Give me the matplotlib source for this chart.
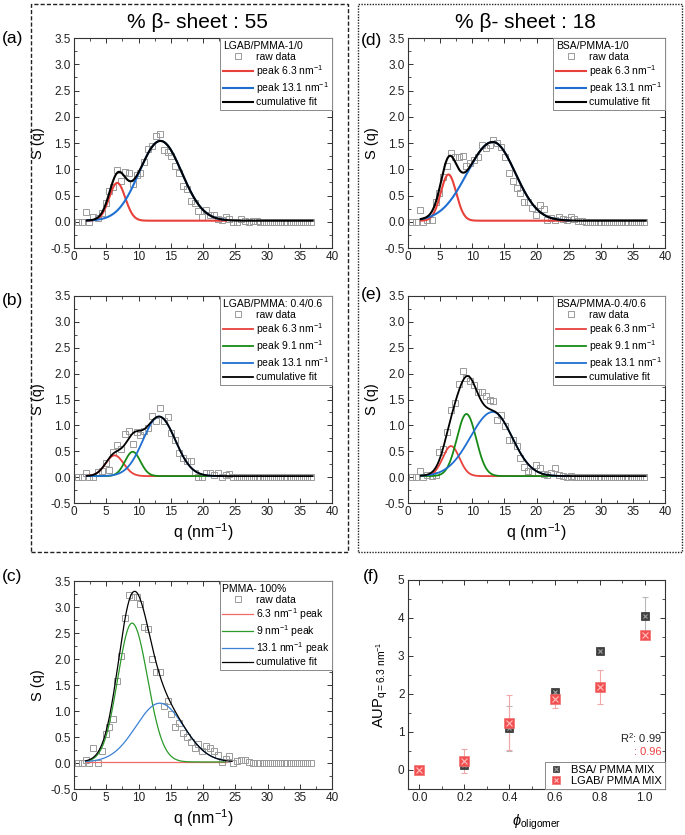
import numpy as np
import matplotlib
matplotlib.use("Agg")
import matplotlib.pyplot as plt
from matplotlib.patches import Rectangle
from matplotlib.ticker import MultipleLocator
from matplotlib.legend_handler import HandlerTuple

plt.rcParams['font.family'] = ['Liberation Sans', 'DejaVu Sans']
plt.rcParams['mathtext.fontset'] = 'custom'
plt.rcParams['mathtext.rm'] = 'Liberation Sans'
plt.rcParams['mathtext.it'] = 'Liberation Sans:italic'
plt.rcParams['mathtext.bf'] = 'Liberation Sans:bold'
plt.rcParams['axes.unicode_minus'] = False

# ---------------- data ----------------
Q = [0.6, 1.2, 1.8, 2.4, 3.0, 3.7, 4.3, 4.9, 5.5, 6.1, 6.7, 7.3, 7.9, 8.5, 9.1, 9.7,
     10.3, 10.9, 11.5, 12.1, 12.7, 13.3, 13.9, 14.5, 15.1, 15.7, 16.3, 16.9, 17.5, 18.1,
     18.7, 19.3, 19.9, 20.5, 21.1, 21.7, 22.3, 22.9, 23.5, 24.1, 24.7, 25.3, 25.9, 26.5,
     27.1, 27.7, 28.3, 28.9, 29.5, 30.1, 30.7, 31.3, 31.9, 32.5, 33.1, 33.7, 34.3, 34.9,
     35.5, 36.1, 36.7]

S_a = [0.0, 0.0, 0.19, 0.0, 0.09, 0.08, 0.16, 0.35, 0.58, 0.67, 0.98, 0.78, 0.94, 0.93, 0.72, 0.90,
       0.93, 1.14, 1.39, 1.45, 1.63, 1.67, 1.36, 1.33, 1.25, 1.07, 0.92, 0.69, 0.63, 0.40,
       0.35, 0.21, 0.10, 0.22, 0.13, 0.13, 0.06, 0.03, 0.10, 0.06, 0.0, 0.0, 0.05, 0.02,
       0.0, 0.01, 0.01, 0.0, 0.0, 0.0, 0.0, 0.0, 0.0, 0.0, 0.0, 0.0, 0.0, 0.0,
       0.0, 0.0, 0.0]
S_b = [0.0, 0.0, 0.08, 0.0, 0.0, 0.10, 0.12, 0.28, 0.13, 0.49, 0.63, 0.54, 0.83, 0.90, 0.64, 0.88,
       0.82, 0.90, 0.94, 1.19, 1.08, 1.33, 1.08, 1.16, 0.85, 0.72, 0.47, 0.37, 0.31, 0.31,
       0.08, 0.0, 0.0, 0.08, 0.08, 0.05, 0.08, 0.0, 0.05, 0.06, 0.0, 0.0, 0.01, 0.0,
       0.0, 0.0, 0.0, 0.0, 0.0, 0.0, 0.0, 0.0, 0.0, 0.0, 0.0, 0.0, 0.0, 0.0,
       0.0, 0.0, 0.0]
S_c = [0.0, 0.0, 0.06, 0.0, 0.28, 0.0, 0.23, 0.55, 0.70, 0.85, 1.57, 2.06, 2.79, 3.23, 3.19, 3.20,
       3.06, 2.62, 2.58, 2.00, 1.75, 1.75, 1.09, 1.20, 0.95, 0.69, 0.77, 0.58, 0.50, 0.40,
       0.28, 0.36, 0.23, 0.33, 0.28, 0.23, 0.15, 0.02, 0.08, 0.13, 0.0, 0.04, 0.06, 0.05,
       0.02, 0.0, 0.0, 0.0, 0.0, 0.0, 0.0, 0.0, 0.0, 0.0, 0.0, 0.0, 0.0, 0.0,
       0.0, 0.0, 0.0]
S_d = [0.0, 0.0, 0.22, 0.0, 0.03, 0.03, 0.38, 0.54, 0.85, 1.07, 1.31, 1.24, 1.24, 1.25, 1.06, 1.11,
       1.18, 1.23, 1.47, 1.41, 1.47, 1.55, 1.50, 1.42, 1.24, 0.93, 0.77, 0.65, 0.54, 0.38,
       0.38, 0.26, 0.13, 0.32, 0.24, 0.04, 0.08, 0.04, 0.09, 0.06, 0.03, 0.09, 0.05, 0.02,
       0.01, 0.0, 0.0, 0.0, 0.0, 0.0, 0.0, 0.0, 0.0, 0.0, 0.0, 0.0, 0.0, 0.0,
       0.0, 0.0, 0.0]
S_e = [0.0, 0.0, 0.12, 0.0, 0.05, 0.03, 0.05, 0.49, 0.55, 0.87, 1.30, 1.43, 1.80, 2.06, 1.91, 1.85,
       1.78, 1.64, 1.64, 1.56, 1.49, 1.48, 1.10, 1.20, 0.98, 0.72, 0.72, 0.60, 0.37, 0.20,
       0.12, 0.10, 0.23, 0.18, 0.06, 0.05, 0.08, 0.17, 0.05, 0.03, 0.01, 0.02, 0.0, 0.0,
       0.0, 0.0, 0.0, 0.0, 0.0, 0.0, 0.0, 0.0, 0.0, 0.0, 0.0, 0.0, 0.0, 0.0,
       0.0, 0.0, 0.0]

# fitted peaks: (centre, height, sigma_left, sigma_right)
BASE = 0.02
PEAKS_a = [(6.7, 0.72, 1.25, 1.25), (13.4, 1.52, 3.3, 3.3)]
PEAKS_b = [(6.3, 0.40, 1.4, 1.4), (9.1, 0.47, 1.2, 1.2), (13.2, 1.15, 2.5, 2.5)]
PEAKS_c = [(6.3, 0.0, 1.2, 1.2), (9.0, 2.67, 2.2, 2.4), (13.3, 1.13, 3.7, 3.7)]
PEAKS_d = [(6.3, 0.88, 1.2, 1.2), (13.2, 1.50, 4.0, 3.5)]
PEAKS_e = [(6.7, 0.58, 1.3, 1.3), (9.1, 1.20, 1.5, 1.5), (13.2, 1.24, 3.5, 3.0)]

PHI = [0.0, 0.2, 0.4, 0.6, 0.8, 1.0]
AUP_BSA = [0.0, 0.12, 1.10, 2.05, 3.13, 4.04]
ERR_BSA = [0.0, 0.05, 0.59, 0.05, 0.05, 0.50]
AUP_LGAB = [0.0, 0.24, 1.25, 1.87, 2.19, 3.54]
ERR_LGAB = [0.0, 0.32, 0.73, 0.23, 0.44, 0.08]

RED = '#e8403a'
GREEN = '#168a16'
BLUE = '#1f6fd2'
GRAYSQ = '#9a9a9a'

W, H = 685, 835
fig = plt.figure(figsize=(W / 100, H / 100), dpi=100)


def box(l, t, r, b):
    return [l / W, 1 - b / H, (r - l) / W, (b - t) / H]


def peak(q, c, h, sl, sr):
    s = np.where(q < c, sl, sr)
    return h * np.exp(-(q - c) ** 2 / (2 * s ** 2))


def style_axes(ax):
    for sp in ax.spines.values():
        sp.set_color('#333333')
        sp.set_linewidth(0.8)
    ax.tick_params(which='both', direction='in', top=True, right=True,
                   labelsize=8.5, colors='#333333', labelcolor='#222222')
    ax.tick_params(which='major', length=3.5, width=0.7, pad=2.5)
    ax.tick_params(which='minor', length=2, width=0.6)


def spectrum(ax, S, peaks, cols, labels, title, start, comp_end, cum_end, lw, xlabel):
    ax.plot(Q, S, 's', ms=4.2, mfc='none', mec=GRAYSQ, mew=0.7, label='raw data', zorder=2)
    qc = np.linspace(start, comp_end, 500)
    for (c, h, sl, sr), col, lab in zip(peaks, cols, labels):
        ax.plot(qc, BASE + peak(qc, c, h, sl, sr), color=col, lw=lw, label=lab, zorder=3)
    qq = np.linspace(start, cum_end, 800)
    tot = BASE + sum(peak(qq, *p) for p in peaks)
    ax.plot(qq, tot, color='black', lw=lw, label='cumulative fit', zorder=4)
    ax.set_xlim(0, 40)
    ax.set_ylim(-0.5, 3.5)
    ax.xaxis.set_major_locator(MultipleLocator(5))
    ax.xaxis.set_minor_locator(MultipleLocator(2.5))
    ax.yaxis.set_major_locator(MultipleLocator(0.5))
    ax.yaxis.set_minor_locator(MultipleLocator(0.25))
    style_axes(ax)
    ax.set_ylabel('S (q)', fontsize=10.5, labelpad=4)
    if xlabel:
        ax.set_xlabel('q (nm$^{-1}$)', fontsize=11.5, labelpad=2)
    leg = ax.legend(loc='upper right', borderaxespad=0, title=title, alignment='left',
                    fontsize=7.5, title_fontsize=7.5, handlelength=2.9, handletextpad=0.3,
                    borderpad=0.25, labelspacing=0.12, fancybox=False, framealpha=1,
                    edgecolor='#8a8a8a', markerscale=1.0, numpoints=1)
    leg.get_frame().set_linewidth(0.7)


pk2 = ['peak 6.3 nm$^{-1}$', 'peak 13.1 nm$^{-1}$']
pk3 = ['peak 6.3 nm$^{-1}$', 'peak 9.1 nm$^{-1}$', 'peak 13.1 nm$^{-1}$']

ax_a = fig.add_axes(box(74, 38, 332, 248))
spectrum(ax_a, S_a, PEAKS_a, [RED, BLUE], pk2, 'LGAB/PMMA-1/0', 2.0, 23.5, 37, 1.5, False)
ax_d = fig.add_axes(box(408, 38, 665, 248))
spectrum(ax_d, S_d, PEAKS_d, [RED, BLUE], pk2, 'BSA/PMMA-1/0', 2.0, 25, 37, 1.5, False)
ax_b = fig.add_axes(box(74, 296, 332, 503))
spectrum(ax_b, S_b, PEAKS_b, [RED, GREEN, BLUE], pk3, 'LGAB/PMMA: 0.4/0.6', 2.0, 23, 37, 1.3, True)
ax_e = fig.add_axes(box(408, 296, 665, 503))
spectrum(ax_e, S_e, PEAKS_e, [RED, GREEN, BLUE], pk3, 'BSA/PMMA-0.4/0.6', 2.0, 25, 37, 1.3, True)
ax_c = fig.add_axes(box(74, 581, 332, 789))
spectrum(ax_c, S_c, PEAKS_c, ['#f06a6a', '#2a9a2a', '#3a82d6'],
         ['6.3 nm$^{-1}$ peak', '9 nm$^{-1}$ peak', '13.1 nm$^{-1}$ peak'],
         'PMMA- 100%', 1.8, 23.5, 24.5, 0.9, True)

# ---------------- panel f ----------------
ax_f = fig.add_axes(box(408, 580, 665, 789))
ax_f.errorbar(PHI, AUP_BSA, yerr=ERR_BSA, fmt='none', ecolor='#b8b8b8', elinewidth=0.8,
              capsize=2, capthick=0.8, zorder=2)
ax_f.errorbar(PHI, AUP_LGAB, yerr=ERR_LGAB, fmt='none', ecolor='#f2a8a8', elinewidth=0.8,
              capsize=2, capthick=0.8, zorder=2)
s1, = ax_f.plot(PHI, AUP_BSA, 's', ms=6, mfc='#404040', mec='#303030', mew=0.5, zorder=3)
x1, = ax_f.plot(PHI, AUP_BSA, 'x', ms=3.5, color='#a0a0a0', mew=0.8, zorder=4)
s2, = ax_f.plot(PHI, AUP_LGAB, 's', ms=6.5, mfc='#f25050', mec='#f07070', mew=0.5, zorder=5)
x2, = ax_f.plot(PHI, AUP_LGAB, 'x', ms=3.8, color='#ffc0c0', mew=0.8, zorder=6)
ax_f.set_xlim(-0.05, 1.09)
ax_f.set_ylim(-0.5, 5)
ax_f.xaxis.set_major_locator(MultipleLocator(0.2))
ax_f.xaxis.set_minor_locator(MultipleLocator(0.1))
ax_f.yaxis.set_major_locator(MultipleLocator(1))
ax_f.yaxis.set_minor_locator(MultipleLocator(0.5))
ax_f.xaxis.set_major_formatter(matplotlib.ticker.FormatStrFormatter('%.1f'))
style_axes(ax_f)
ax_f.set_ylabel('AUP$_{\\mathrm{q=6.3\\ nm^{-1}}}$', fontsize=10.5, labelpad=6)
ax_f.set_xlabel('$\\phi_{\\mathrm{oligomer}}$', fontsize=10.5, labelpad=6)
legf = ax_f.legend([(s1, x1), (s2, x2)], ['BSA/ PMMA MIX', 'LGAB/ PMMA MIX'],
                   handler_map={tuple: HandlerTuple(ndivide=1, pad=0)},
                   loc='lower right', borderaxespad=0, fontsize=8, handlelength=1.5,
                   handletextpad=0.6, borderpad=0.25, labelspacing=0.15, fancybox=False,
                   framealpha=1, edgecolor='#8a8a8a', markerscale=0.8)
legf.get_frame().set_linewidth(0.7)
ax_f.text(0.988, 0.244, 'R$^{2}$: 0.99', transform=ax_f.transAxes, ha='right', va='center',
          fontsize=8, color='#222222')
ax_f.text(0.988, 0.177, ': 0.96', transform=ax_f.transAxes, ha='right', va='center',
          fontsize=8, color='#e84040')

# ---------------- decorations ----------------
fig.add_artist(Rectangle((31 / W, 1 - 552 / H), (348 - 31) / W, (552 - 4) / H,
                         transform=fig.transFigure, fill=False, ec='#222222', lw=1.0,
                         ls=(0, (3, 1.5))))
fig.add_artist(Rectangle((358 / W, 1 - 552 / H), (682 - 358) / W, (552 - 4) / H,
                         transform=fig.transFigure, fill=False, ec='#222222', lw=1.0,
                         ls=(0, (1, 1))))

fig.text(197 / W, 1 - 22 / H, '% β- sheet : 55', ha='center', va='center', fontsize=15)
fig.text(525 / W, 1 - 22 / H, '% β- sheet : 18', ha='center', va='center', fontsize=15)

for lab, x, y in [('(a)', 2, 38), ('(b)', 2, 300), ('(c)', 2, 576),
                  ('(d)', 361, 40), ('(e)', 361, 295), ('(f)', 363, 576)]:
    fig.text(x / W, 1 - y / H, lab, ha='left', va='center', fontsize=12.5)

fig.savefig('out.png', dpi=100)
